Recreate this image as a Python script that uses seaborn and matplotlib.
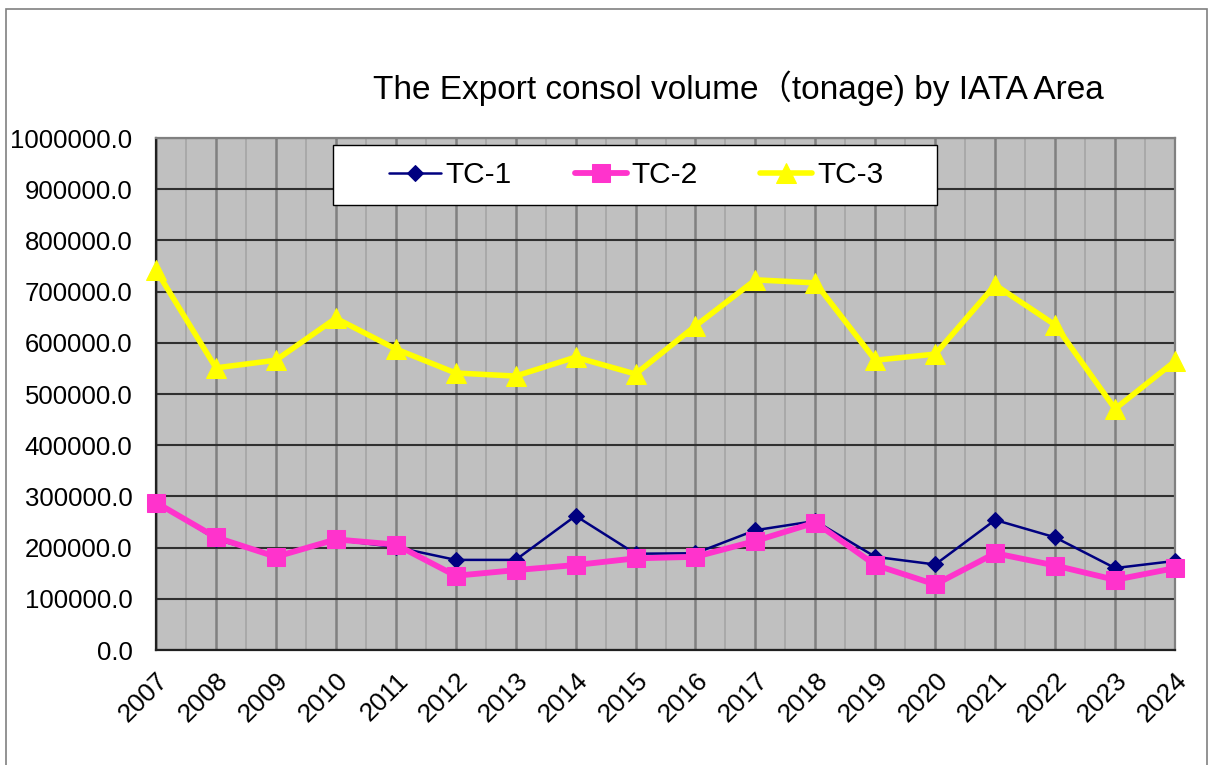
import matplotlib
matplotlib.use("Agg")
import matplotlib.pyplot as plt
import seaborn as sns
import pandas as pd
from matplotlib.ticker import MultipleLocator, FormatStrFormatter
from matplotlib.patches import Rectangle

years = list(range(2007, 2025))
tc1 = [290000, 216000, 183000, 215000, 201000, 176000, 176000, 262000, 188000,
       189000, 234000, 252000, 182000, 167000, 254000, 220000, 160000, 174000]
tc2 = [288000, 220000, 182000, 216000, 206000, 145000, 156000, 166000, 179000,
       182000, 213000, 249000, 166000, 128000, 189000, 165000, 137000, 160000]
tc3 = [742000, 551000, 566000, 648000, 588000, 541000, 535000, 572000, 539000,
       633000, 723000, 717000, 566000, 578000, 713000, 635000, 471000, 564000]

title = "The Export consol volume（tonage) by IATA Area"

sns.set_style("white")
plt.rcParams['font.family'] = ['Liberation Sans', 'Noto Sans CJK JP', 'DejaVu Sans']
plt.rcParams['text.color'] = 'black'
plt.rcParams['xtick.color'] = 'black'
plt.rcParams['ytick.color'] = 'black'

W, H = 1209, 765
fig = plt.figure(figsize=(W / 100, H / 100), dpi=100)

# outer frame of the chart object
fig.patches.append(Rectangle((6 / W, -0.05), (1207 - 6) / W, 1.05 - 9 / H,
                             transform=fig.transFigure, fill=False,
                             edgecolor='#808080', linewidth=1.2))

ax = fig.add_axes([156 / W, 1 - 650 / H, (1175 - 156) / W, 512 / H])
ax.set_facecolor('#c0c0c0')

df = pd.DataFrame({'year': years, 'TC-1': tc1, 'TC-2': tc2, 'TC-3': tc3})

sns.lineplot(data=df, x='year', y='TC-1', ax=ax, color='#000080', linewidth=1.8,
             marker='D', markersize=8.5, markeredgecolor='#000080', label='TC-1',
             clip_on=False, zorder=4)
sns.lineplot(data=df, x='year', y='TC-2', ax=ax, color='#ff33cc', linewidth=4.2,
             marker='s', markersize=13, markeredgecolor='#ff33cc', label='TC-2',
             clip_on=False, zorder=5)
sns.lineplot(data=df, x='year', y='TC-3', ax=ax, color='#ffff00', linewidth=4.0,
             marker='^', markersize=15, markeredgecolor='#ffff00', label='TC-3',
             clip_on=False, zorder=6)

ax.set_xlim(2007, 2024)
ax.set_ylim(0, 1000000)
ax.set_xticks(years)
ax.set_xticklabels([str(y) for y in years], rotation=45, ha='right',
                   rotation_mode='anchor', fontsize=19)
ax.xaxis.set_minor_locator(MultipleLocator(0.5))
ax.yaxis.set_major_locator(MultipleLocator(100000))
ax.yaxis.set_major_formatter(FormatStrFormatter('%.1f'))
ax.tick_params(axis='y', labelsize=18.5, length=0, pad=17)
ax.tick_params(axis='x', which='major', direction='in', length=5, width=1.5,
               color='#303030', pad=13)
ax.tick_params(axis='x', which='minor', length=0)
ax.set_xlabel('')
ax.set_ylabel('')

ax.grid(True, axis='x', which='major', color='#808080', linewidth=1.8, zorder=1)
ax.grid(True, axis='x', which='minor', color='#a9a9a9', linewidth=1.4, zorder=1)
ax.grid(True, axis='y', which='major', color='#303030', linewidth=1.5, zorder=1)
ax.set_axisbelow(True)

for side in ['left', 'bottom']:
    ax.spines[side].set_color('#202020')
    ax.spines[side].set_linewidth(1.6)
for side in ['top', 'right']:
    ax.spines[side].set_color('#808080')
    ax.spines[side].set_linewidth(1.6)

# legend box drawn separately so the entries can sit centred with wide margins
box = Rectangle((333 / W, 1 - 205 / H), (937 - 333) / W, 60 / H,
                transform=fig.transFigure, facecolor='white', edgecolor='black',
                linewidth=1.0, zorder=9, clip_on=False)
ax.add_patch(box)

leg = ax.legend(loc='center', ncol=3, bbox_to_anchor=(636 / W, 1 - 175 / H),
                bbox_transform=fig.transFigure, frameon=False,
                handlelength=1.75, handletextpad=0.15, columnspacing=2.1,
                markerscale=0.95, fontsize=21.5)
leg.set_zorder(10)

fig.text(738 / W, 1 - 88 / H, title, ha='center', va='center', fontsize=24)

fig.savefig('out.png', dpi=100)
